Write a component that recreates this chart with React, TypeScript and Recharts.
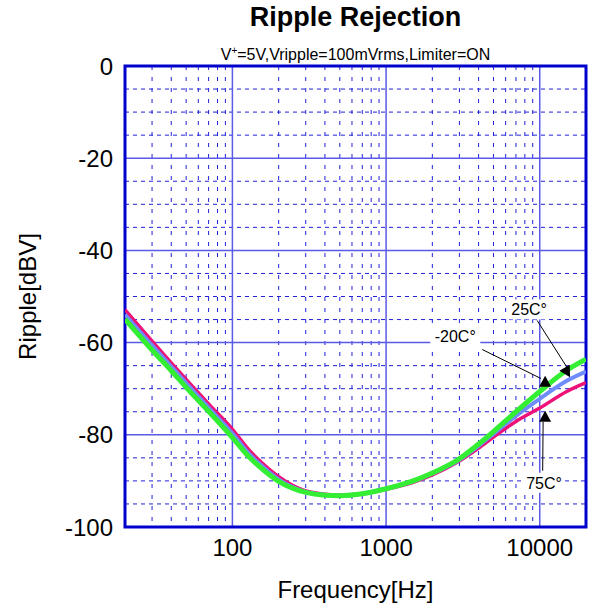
import React from 'react'
import {
  LineChart,
  Line,
  XAxis,
  YAxis,
  CartesianGrid,
  ReferenceArea,
  ReferenceLine,
  ReferenceDot,
} from 'recharts'

// frequency points [Hz]
const FREQS = [20, 30, 40, 50, 70, 100, 130, 150, 200, 300, 400, 500, 700, 1000, 1500, 2000, 3000, 4000, 5000, 7000, 10000, 15000, 20000]

// ripple [dBV] per temperature
const RIPPLE_25C = [-54.9, -61.6, -66.1, -69.7, -74.9, -80.6, -85.0, -86.9, -90.1, -92.5, -93.1, -93.2, -92.8, -91.7, -90.0, -88.3, -85.2, -82.0, -79.3, -75.0, -70.6, -66.0, -63.6]
const RIPPLE_M20C = [-53.9, -60.6, -65.2, -68.8, -74.1, -79.7, -84.3, -86.3, -89.7, -92.4, -93.0, -93.2, -92.8, -91.7, -90.1, -88.4, -85.4, -82.4, -79.8, -75.9, -72.2, -68.3, -66.3]
const RIPPLE_75C = [-52.9, -59.7, -64.4, -68.0, -73.3, -78.8, -83.5, -85.6, -89.1, -92.2, -92.9, -93.1, -92.8, -91.8, -90.3, -88.7, -85.7, -82.9, -80.5, -77.1, -74.2, -70.6, -68.7]

const X_TICKS = [100, 1000, 10000]
const Y_TICKS = [0, -20, -40, -60, -80, -100]
const MINOR_X = [30, 40, 50, 60, 70, 80, 90, 200, 300, 400, 500, 600, 700, 800, 900, 2000, 3000, 4000, 5000, 6000, 7000, 8000, 9000]
const MINOR_Y = [-5, -10, -15, -25, -30, -35, -45, -50, -55, -65, -70, -75, -85, -90, -95]

const data = FREQS.map((f, i) => ({
  f,
  t25: RIPPLE_25C[i],
  tm20: RIPPLE_M20C[i],
  t75: RIPPLE_75C[i],
}))

const FONT = 'Arial, "Liberation Sans", sans-serif'
const AXIS_TEXT = { fontSize: 24, fill: '#000', fontFamily: FONT }

const Tag = ({ cx, cy, text, w }: any) => (
  <g>
    <rect x={cx - w / 2} y={cy - 10} width={w} height={20} fill="#fff" />
    <text x={cx} y={cy} dy="0.36em" textAnchor="middle" fontSize={16} fontFamily={FONT} fill="#000">
      {text}
    </text>
  </g>
)

const Head = ({ cx, cy, angle }: any) => (
  <polygon
    points={`${cx},${cy - 6} ${cx + 6},${cy + 5} ${cx - 6},${cy + 5}`}
    fill="#000"
    transform={`rotate(${angle} ${cx} ${cy})`}
  />
)

export default function App() {
  return (
    <div style={{ position: 'absolute', left: 0, top: 0, width: 589, height: 612, background: '#fff', fontFamily: FONT }}>
      <div style={{ position: 'absolute', left: 125, width: 461, top: 2, textAlign: 'center', fontSize: 27, fontWeight: 'bold' }}>
        Ripple Rejection
      </div>
      <div style={{ position: 'absolute', left: 125, width: 461, top: 45, textAlign: 'center', fontSize: 16 }}>
        V<sup style={{ fontSize: 10 }}>+</sup>=5V,Vripple=100mVrms,Limiter=ON
      </div>
      <LineChart width={589} height={612} data={data} margin={{ top: 66, right: 3, bottom: 0, left: 0 }}>
        <CartesianGrid horizontal vertical={false} horizontalValues={MINOR_Y} stroke="#2020d8" strokeDasharray="4 4" />
        <CartesianGrid horizontal={false} vertical verticalValues={MINOR_X} stroke="#2020d8" strokeDasharray="4 7" />
        <CartesianGrid horizontalValues={[-20, -40, -60, -80]} verticalValues={X_TICKS} stroke="#5a5ae6" strokeWidth={1.5} />
        <XAxis
          dataKey="f"
          type="number"
          scale="log"
          domain={[20, 20000]}
          ticks={X_TICKS}
          interval={0}
          allowDataOverflow
          height={85}
          tickLine={false}
          axisLine={false}
          tickSize={0}
          tickMargin={12}
          tick={AXIS_TEXT}
          label={{ value: 'Frequency[Hz]', position: 'insideBottom', offset: 14, style: AXIS_TEXT }}
        />
        <YAxis
          type="number"
          domain={[-100, 0]}
          ticks={Y_TICKS}
          interval={0}
          width={125}
          tickLine={false}
          axisLine={false}
          tickSize={0}
          tickMargin={12}
          tick={AXIS_TEXT}
          label={{ value: 'Ripple[dBV]', angle: -90, position: 'insideLeft', offset: 27, style: { ...AXIS_TEXT, textAnchor: 'middle' } }}
        />
        <ReferenceArea x1={20} x2={20000} y1={-100} y2={0} fill="none" stroke="#0000cc" strokeWidth={3} ifOverflow="visible" />
        <Line dataKey="t75" type="monotone" stroke="#ee1177" strokeWidth={3.5} dot={false} isAnimationActive={false} />
        <Line dataKey="tm20" type="monotone" stroke="#6f8cff" strokeWidth={4} dot={false} isAnimationActive={false} />
        <Line dataKey="t25" type="monotone" stroke="#33ee33" strokeWidth={5} dot={false} isAnimationActive={false} />

        <ReferenceLine segment={[{ x: 9620, y: -55.2 }, { x: 15060, y: -65.4 }]} stroke="#000" strokeWidth={1} />
        <ReferenceLine segment={[{ x: 4225, y: -61.5 }, { x: 10200, y: -67.8 }]} stroke="#000" strokeWidth={1} />
        <ReferenceLine segment={[{ x: 10520, y: -77.2 }, { x: 10450, y: -87.8 }]} stroke="#000" strokeWidth={1} />
        <ReferenceDot x={15060} y={-66.4} shape={(p: any) => <Head {...p} angle={150} />} />
        <ReferenceDot x={10840} y={-68.5} shape={(p: any) => <Head {...p} angle={0} />} />
        <ReferenceDot x={10840} y={-76.1} shape={(p: any) => <Head {...p} angle={0} />} />
        <ReferenceDot x={8530} y={-52.8} shape={(p: any) => <Tag {...p} text="25C°" w={40} />} />
        <ReferenceDot x={2820} y={-58.6} shape={(p: any) => <Tag {...p} text="-20C°" w={50} />} />
        <ReferenceDot x={10670} y={-90.4} shape={(p: any) => <Tag {...p} text="75C°" w={42} />} />
      </LineChart>
    </div>
  )
}
